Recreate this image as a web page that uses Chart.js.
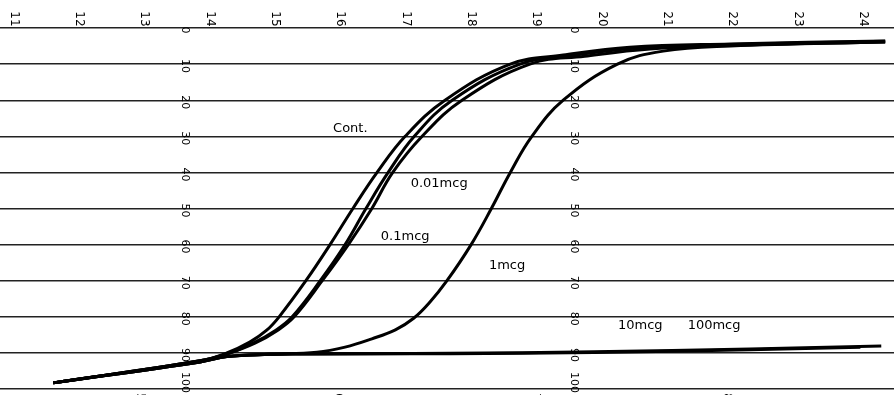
<!DOCTYPE html>
<html>
<head>
<meta charset="utf-8">
<script src="https://cdn.jsdelivr.net/npm/chart.js@4"></script>
<style>
  body { margin: 0; background: #fff; }
  #wrap { width: 894px; height: 395px; position: relative; }
</style>
</head>
<body>
<div id="wrap"><canvas id="curveChart"></canvas></div>
<script>
// hours (top scale) and percent (0 at top, 100 at bottom)
const contHours = [11.6, 13.85, 14.26, 14.61, 14.87, 15.06, 15.47, 15.84, 16.19, 16.56, 16.99, 17.6, 18.6, 19.41, 20.43, 21.97, 24.34];
const contPct   = [98.3, 92.2, 90.0, 87.0, 83.7, 80, 70, 60, 50, 40, 30, 20, 10, 7.5, 5.3, 4.4, 3.6];

const dose001Hours = [11.6, 13.85, 14.26, 14.66, 15.01, 15.26, 15.69, 16.07, 16.39, 16.73, 17.13, 17.71, 18.75, 19.59, 20.59, 21.97, 24.34];
const dose001Pct   = [98.3, 92.2, 90.3, 87.3, 83.7, 80, 70, 60, 50, 40, 30, 20, 10, 7.5, 5.5, 4.6, 3.7];

const dose01Hours = [11.6, 13.85, 14.26, 14.69, 15.04, 15.29, 15.72, 16.12, 16.48, 16.8, 17.25, 17.86, 18.9, 19.74, 20.74, 22.12, 24.34];
const dose01Pct   = [98.3, 92.2, 90.3, 87.3, 83.7, 80, 70, 60, 50, 40, 30, 20, 10, 7.8, 5.8, 4.7, 3.9];

const dose1Hours = [11.6, 13.85, 14.26, 14.92, 15.64, 16.07, 16.48, 16.84, 17.12, 17.37, 17.63, 18.0, 18.31, 18.6, 18.93, 19.41, 20.24, 20.94, 21.97, 24.34];
const dose1Pct   = [98.3, 92.5, 91.0, 90.4, 89.8, 88.4, 86.1, 83.6, 80.4, 75.9, 70, 60, 50, 40, 30, 20, 10, 6.4, 5.0, 3.9];

const dose10Hours = [11.6, 13.85, 14.26, 14.92, 15.38, 17.68, 19.88, 22.27, 23.96];
const dose10Pct   = [98.3, 92.5, 91.0, 90.4, 90.3, 90.2, 89.9, 89.1, 88.4];

const dose100Hours = [11.6, 13.85, 14.26, 14.92, 15.38, 17.68, 19.88, 22.27, 24.28];
const dose100Pct   = [98.3, 92.5, 91.0, 90.4, 90.3, 90.1, 89.7, 88.9, 88.1];

const gridValues = [0, 10, 20, 30, 40, 50, 60, 70, 80, 90, 100];
const topHours = [11, 12, 13, 14, 15, 16, 17, 18, 19, 20, 21, 22, 23, 24];
const pctLabelHours = [13.62, 19.58];
const bottomLabels = ['5', '6', '7', '8'];
const bottomLabelHours = [12.93, 15.96, 18.98, 21.92];

const curveLabels = [
  { text: 'Cont.', x: 16.15, y: 28 },
  { text: '0.01mcg', x: 17.51, y: 43.2 },
  { text: '0.1mcg', x: 16.99, y: 57.9 },
  { text: '1mcg', x: 18.55, y: 65.9 },
  { text: '10mcg', x: 20.59, y: 82.5 },
  { text: '100mcg', x: 21.72, y: 82.5 },
];

const toPoints = (xs, ys) => xs.map((x, i) => ({ x: x, y: ys[i] }));

const series = [
  toPoints(contHours, contPct),
  toPoints(dose001Hours, dose001Pct),
  toPoints(dose01Hours, dose01Pct),
  toPoints(dose1Hours, dose1Pct),
  toPoints(dose10Hours, dose10Pct),
  toPoints(dose100Hours, dose100Pct),
];

const drawRotated = (ctx, text, x, y) => {
  ctx.save();
  ctx.translate(x, y);
  ctx.rotate(Math.PI / 2);
  ctx.fillText(text, 0, 0);
  ctx.restore();
};

// axis numbers and curve names, placed through the chart's scales
const textPlugin = {
  id: 'paperText',
  afterDraw(chart) {
    const { ctx, scales } = chart;
    const xs = scales.x, ys = scales.y;
    const bottom = chart.height;
    ctx.save();
    ctx.fillStyle = '#000';
    ctx.textAlign = 'center';
    ctx.textBaseline = 'middle';

    ctx.font = '12px "DejaVu Sans"';
    topHours.forEach(h => drawRotated(ctx, String(h), xs.getPixelForValue(h), 19));

    ctx.font = '11px "DejaVu Sans"';
    pctLabelHours.forEach(h => {
      gridValues.forEach(v => {
        const half = ctx.measureText(String(v)).width / 2;
        const y = Math.min(ys.getPixelForValue(v) + 2, bottom - half - 2);
        drawRotated(ctx, String(v), xs.getPixelForValue(h), y);
      });
    });

    ctx.font = '12px "DejaVu Sans"';
    bottomLabels.forEach((t, i) => drawRotated(ctx, t, xs.getPixelForValue(bottomLabelHours[i]), bottom + 2));

    ctx.font = '13px "DejaVu Sans"';
    curveLabels.forEach(l => ctx.fillText(l.text, xs.getPixelForValue(l.x), ys.getPixelForValue(l.y)));
    ctx.restore();
  }
};

const ctx = document.getElementById('curveChart').getContext('2d');
new Chart(ctx, {
  type: 'line',
  data: {
    datasets: series.map(pts => ({
      data: pts,
      borderColor: '#000',
      borderWidth: 3,
      pointRadius: 0,
      fill: false,
      tension: 0.4,
    })),
  },
  options: {
    animation: false,
    responsive: true,
    maintainAspectRatio: false,
    layout: { padding: 0 },
    plugins: { legend: { display: false }, tooltip: { enabled: false } },
    scales: {
      x: {
        type: 'linear',
        display: false,
        min: 10.786,
        max: 24.475,
      },
      y: {
        type: 'linear',
        reverse: true,
        min: -7.76,
        max: 101.66,
        afterBuildTicks: (scale) => { scale.ticks = gridValues.map(v => ({ value: v })); },
        ticks: { display: false },
        border: { display: false },
        grid: { color: '#222', lineWidth: 1.4, drawTicks: false },
      },
    },
  },
  plugins: [textPlugin],
});
</script>
</body>
</html>
